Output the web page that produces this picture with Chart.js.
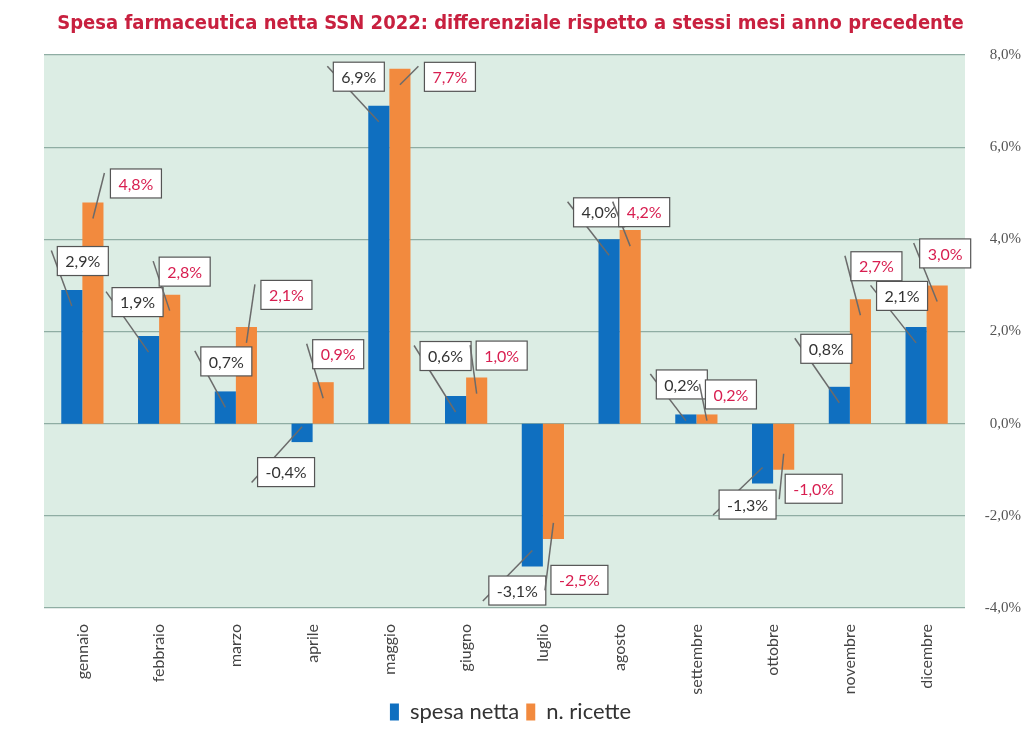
<!DOCTYPE html>
<html lang="it">
<head>
<meta charset="UTF-8">
<title>Spesa farmaceutica netta SSN 2022</title>
<script src="https://cdn.jsdelivr.net/npm/chart.js"></script>
<style>
  html, body { margin: 0; padding: 0; background: #ffffff; }
  #wrap { width: 1023px; height: 735px; }
</style>
</head>
<body>
<div id="wrap"><canvas id="chart"></canvas></div>
<script>
// data
const mesi = ['gennaio', 'febbraio', 'marzo', 'aprile', 'maggio', 'giugno',
              'luglio', 'agosto', 'settembre', 'ottobre', 'novembre', 'dicembre'];
const spesaNetta = [2.9, 1.9, 0.7, -0.4, 6.9, 0.6, -3.1, 4.0, 0.2, -1.3, 0.8, 2.1];
const nRicette   = [4.8, 2.8, 2.1, 0.9, 7.7, 1.0, -2.5, 4.2, 0.2, -1.0, 2.7, 3.0];
const yTicks = [-4, -2, 0, 2, 4, 6, 8];

// where each callout box sits, relative to the end of its bar (px)
const offsBlue = [[11,-29],[-11,-34],[1,-30],[-16,30],[-20,-29],[-10,-40],
                  [-15,24],[-10,-27],[-4,-30],[-15,21],[-13,-38],[-14,-31]];
const offsOrange = [[43,-19],[15,-23],[40,-32],[15,-28],[50,8],[25,-22],
                    [26,41],[14,-18],[24,-20],[30,19],[16,-33],[8,-32]];

const fmt = v => v.toFixed(1).replace('.', ',') + '%';

const plotBg = {
  id: 'plotBg',
  beforeDraw(chart) {
    const { ctx, chartArea: a } = chart;
    ctx.save();
    ctx.fillStyle = '#dcede4';
    ctx.fillRect(a.left, a.top, a.right - a.left, a.bottom - a.top);
    ctx.restore();
  }
};

const callouts = {
  id: 'callouts',
  afterDatasetsDraw(chart) {
    const ctx = chart.ctx;
    ctx.save();
    ctx.font = '16px Lato, "Open Sans", sans-serif';
    ctx.textAlign = 'center';
    ctx.textBaseline = 'middle';
    chart.data.datasets.forEach((ds, di) => {
      const meta = chart.getDatasetMeta(di);
      const offs = di === 0 ? offsBlue : offsOrange;
      meta.data.forEach((bar, i) => {
        const v = ds.data[i];
        const txt = fmt(v);
        const cx = bar.x + offs[i][0];
        const cy = bar.y + offs[i][1];
        const w = ctx.measureText(txt).width + 16;
        const h = 29;
        const bx = cx - w / 2, by = cy - h / 2;
        // leader line
        const endY = v >= 0 ? Math.min(bar.y + 16, bar.base - 3) : Math.max(bar.y - 16, bar.base + 3);
        const sx = bx - 6;
        const sy = v >= 0 ? by + 4 : by + h - 4;
        ctx.strokeStyle = '#6b6b6b';
        ctx.lineWidth = 1.5;
        ctx.beginPath();
        ctx.moveTo(sx, sy);
        ctx.lineTo(bar.x, endY);
        ctx.stroke();
        // box
        ctx.fillStyle = '#ffffff';
        ctx.fillRect(bx, by, w, h);
        ctx.strokeStyle = '#555555';
        ctx.lineWidth = 1.2;
        ctx.strokeRect(bx, by, w, h);
        ctx.fillStyle = di === 0 ? '#333333' : '#d81e50';
        ctx.fillText(txt, cx, cy + 1);
      });
    });
    ctx.restore();
  }
};

new Chart(document.getElementById('chart'), {
  type: 'bar',
  data: {
    labels: mesi,
    datasets: [
      { label: 'spesa netta', data: spesaNetta, backgroundColor: '#0f6fc0' },
      { label: 'n. ricette', data: nRicette, backgroundColor: '#f28a3e' }
    ]
  },
  options: {
    responsive: true,
    maintainAspectRatio: false,
    animation: false,
    layout: { padding: { left: 0, right: 2, top: 0, bottom: 2 } },
    datasets: { bar: { categoryPercentage: 0.55, barPercentage: 1.0 } },
    plugins: {
      title: {
        display: true,
        text: 'Spesa farmaceutica netta SSN 2022: differenziale rispetto a stessi mesi anno precedente',
        color: '#c8203f',
        font: { family: '"Liberation Sans Narrow", "DejaVu Sans Condensed", sans-serif', size: 20, weight: 'bold' },
        padding: { top: 12, bottom: 19 }
      },
      legend: {
        position: 'bottom',
        labels: {
          color: '#333333',
          font: { family: 'Lato, "Open Sans", sans-serif', size: 22 },
          boxWidth: 9,
          boxHeight: 17,
          padding: 7
        }
      },
      tooltip: { enabled: false }
    },
    scales: {
      x: {
        grid: { display: false },
        border: { display: false },
        ticks: {
          color: '#444444',
          font: { family: 'Lato, "Open Sans", sans-serif', size: 16 },
          minRotation: 90,
          maxRotation: 90,
          padding: 8
        },
        afterFit(s) { s.height = 86; }
      },
      // empty left axis, only keeps the margin on the left of the plot
      yLeft: {
        position: 'left',
        grid: { display: false },
        border: { display: false },
        ticks: { display: false },
        afterFit(s) { s.width = 44; }
      },
      y: {
        position: 'right',
        min: -4,
        max: 8,
        afterBuildTicks(s) { s.ticks = yTicks.map(v => ({ value: v })); },
        grid: { color: '#8fada3', lineWidth: 1.3, drawTicks: false },
        border: { display: false },
        ticks: {
          color: '#555555',
          font: { family: '"Liberation Serif", serif', size: 15 },
          crossAlign: 'far',
          padding: 8,
          callback: v => fmt(v)
        },
        afterFit(s) { s.width = 56; }
      }
    }
  },
  plugins: [plotBg, callouts]
});
</script>
</body>
</html>
